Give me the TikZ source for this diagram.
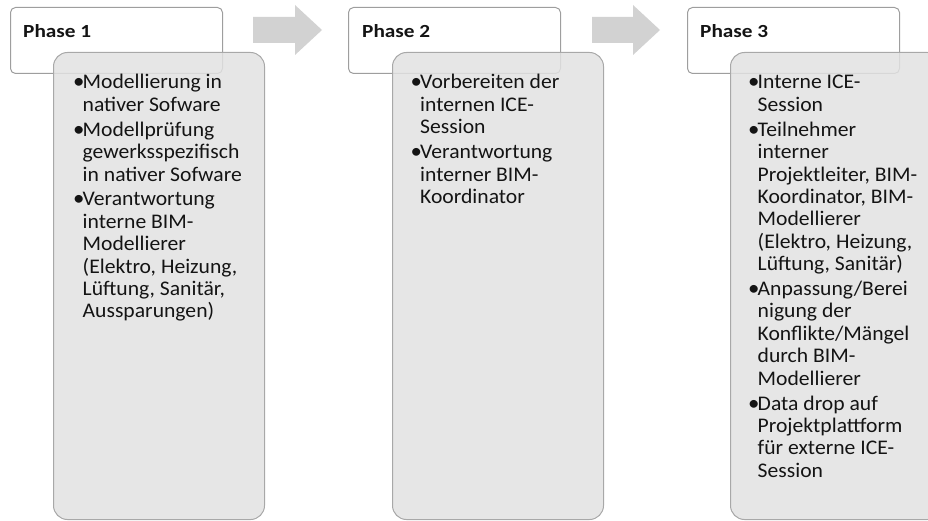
\documentclass[tikz,border=0pt]{standalone}
\usepackage{fontspec}
\setmainfont{Carlito}[FakeStretch=1.04]
\newfontfamily\hdrfont{Carlito}[FakeStretch=1.15]
\definecolor{hdrline}{RGB}{158,158,158}
\definecolor{bodyfill}{RGB}{226,226,226}
\definecolor{bodyline}{RGB}{168,168,168}
\definecolor{arrowfill}{RGB}{210,210,210}
\definecolor{txt}{RGB}{20,20,20}
\newcommand{\bul}{\makebox[8pt][c]{\fontsize{22}{22.4}\selectfont•}}
\newcommand{\paragap}{\\[2.5pt]}

\begin{document}
\begin{tikzpicture}[x=1pt,y=-1pt,
  header/.style={draw=hdrline, fill=white, line width=1pt, rounded corners=5pt,
    anchor=north west, minimum width=212pt, minimum height=66pt, inner sep=0pt},
  hdrtext/.style={anchor=base west, inner sep=0pt, text=txt,
    font=\hdrfont\fontsize{18.5}{22.4}\selectfont\bfseries},
  body/.style={draw=bodyline, fill=bodyfill, fill opacity=0.85, line width=1pt,
    rounded corners=14pt, anchor=north west, minimum width=211pt,
    minimum height=467pt, inner sep=0pt},
  listtext/.style={anchor=base west, inner sep=0pt, text=txt,
    font=\fontsize{20.8}{22.4}\selectfont},
  flowarrow/.style={fill=arrowfill, draw=none}]

\clip (0,0) rectangle (928,521);

% step arrows between the phase headers
\coordinate (a1) at (253,17);
\fill[flowarrow] (a1) -- ++(42,0) -- ++(0,-12) -- ++(27,25) -- ++(-27,25) -- ++(0,-12) -- ++(-42,0) -- cycle;
\coordinate (a2) at (592,17);
\fill[flowarrow] (a2) -- ++(41,0) -- ++(0,-12) -- ++(27,25) -- ++(-27,25) -- ++(0,-12) -- ++(-41,0) -- cycle;

% Phase 1
\node[header] (h1) at (10,7) {};
\node[hdrtext] (ht1) at (23,38) {Phase 1};
\node[body] (b1) at (53,52) {};
\node[listtext] (l1) at (74.5,89) {\begin{tabular}[t]{@{}l@{}l@{}}
\bul & Modellierung in\\
     & nativer Sofware\paragap
\bul & Modellprüfung\\
     & gewerksspezifisch\\
     & in nativer Sofware\paragap
\bul & Verantwortung\\
     & interne BIM-\\
     & Modellierer\\
     & (Elektro, Heizung,\\
     & Lüftung, Sanitär,\\
     & Aussparungen)
\end{tabular}};

% Phase 2
\node[header] (h2) at (348,7) {};
\node[hdrtext] (ht2) at (362,38) {Phase 2};
\node[body] (b2) at (392,52) {};
\node[listtext] (l2) at (412,89) {\begin{tabular}[t]{@{}l@{}l@{}}
\bul & Vorbereiten der\\
     & internen ICE-\\
     & Session\paragap
\bul & Verantwortung\\
     & interner BIM-\\
     & Koordinator
\end{tabular}};

% Phase 3
\node[header] (h3) at (687,7) {};
\node[hdrtext] (ht3) at (700,38) {Phase 3};
\node[body] (b3) at (730,52) {};
\node[listtext] (l3) at (749.5,89) {\begin{tabular}[t]{@{}l@{}l@{}}
\bul & Interne ICE-\\
     & Session\paragap
\bul & Teilnehmer\\
     & interner\\
     & Projektleiter, BIM-\\
     & Koordinator, BIM-\\
     & Modellierer\\
     & (Elektro, Heizung,\\
     & Lüftung, Sanitär)\paragap
\bul & Anpassung/Berei\\
     & nigung der\\
     & Konflikte/Mängel\\
     & durch BIM-\\
     & Modellierer\paragap
\bul & Data drop auf\\
     & Projektplattform\\
     & für externe ICE-\\
     & Session
\end{tabular}};
\end{tikzpicture}
\end{document}
